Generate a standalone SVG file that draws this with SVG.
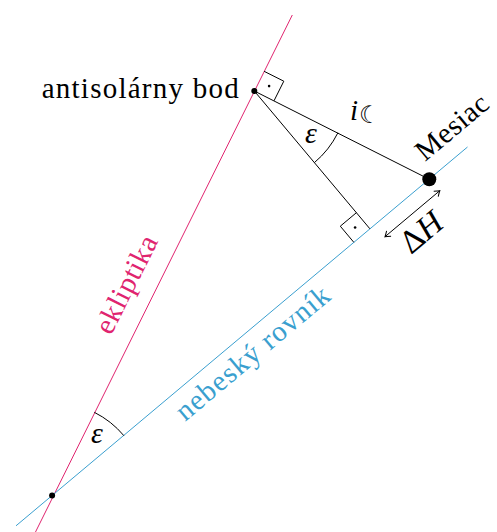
<svg xmlns="http://www.w3.org/2000/svg" width="497" height="532" viewBox="0 0 497 532">
<style>
.ecl{stroke:#e0246f;stroke-width:1;fill:none}
.equ{stroke:#3a9fcf;stroke-width:1;fill:none}
.blk{stroke:#000;stroke-width:1;fill:none}
.t{font-family:"Liberation Serif","DejaVu Serif",serif;font-size:29px;fill:#000}
.it{font-style:italic}
</style>
<defs>
<marker id="ah" viewBox="-6 -5 7 10" refX="0" refY="0" markerWidth="7" markerHeight="10" markerUnits="userSpaceOnUse" orient="auto-start-reverse">
<path d="M -5 -3.5 Q -1.5 -0.8 0 0 Q -1.5 0.8 -5 3.5" stroke="#000" stroke-width="1" fill="none"/>
</marker>
</defs>
<rect width="497" height="532" fill="#fff"/>
<g id="connectors">
<line id="ecliptic-line" class="ecl" x1="35.5" y1="532" x2="292.3" y2="15"/>
<line id="equator-line" class="equ" x1="16" y1="525.8" x2="467.5" y2="147"/>
<line class="blk" x1="254.3" y1="91" x2="429.3" y2="179.3"/>
<line class="blk" x1="254.3" y1="91" x2="369.9" y2="228.8"/>
<polyline class="blk" points="264.1,71.3 283.8,81.2 274,100.8"/>
<polyline class="blk" points="356.4,212.7 340.3,226.2 353.8,242.3"/>
<path class="blk" d="M 337.9,132.8 A 93.5 93.5 0 0 1 314.4,162.6"/>
<path class="blk" d="M 94.3,412.3 A 93 93 0 0 1 123.9,435.7"/>
<line class="blk" x1="385" y1="236.7" x2="439.8" y2="190.7" marker-start="url(#ah)" marker-end="url(#ah)"/>
<circle cx="269.1" cy="86.1" r="1.3" fill="#000"/>
<circle cx="355.1" cy="227.5" r="1.3" fill="#000"/>
</g>
<g id="intersection">
<circle cx="52.1" cy="495.5" r="3" fill="#000"/>
</g>
<g id="antisolar">
<circle cx="254.3" cy="91" r="3" fill="#000"/>
<text class="t" x="41.7" y="98" textLength="197" lengthAdjust="spacing">antisolárny bod</text>
</g>
<g id="moon">
<circle cx="429.3" cy="179.3" r="7" fill="#000"/>
<text class="t" transform="translate(425,162) rotate(-40)" textLength="86" lengthAdjust="spacing">Mesiac</text>
</g>
<g id="labels">
<text class="t" transform="translate(111,336) rotate(-63.43)" textLength="106" lengthAdjust="spacing" style="fill:#e0246f">ekliptika</text>
<text class="t" transform="translate(185,422) rotate(-40)" textLength="192" lengthAdjust="spacing" style="fill:#3a9fcf">nebeský rovník</text>
<text class="t it" x="305" y="143" style="font-size:30px">ε</text>
<text class="t it" x="91" y="443" style="font-size:30px">ε</text>
<text class="t it" x="350" y="120">i</text>
<text x="359" y="123" style="font-family:'DejaVu Sans',sans-serif;font-size:24px">☾</text>
<text class="t" transform="translate(411,255) rotate(-40)" style="font-size:33px">Δ<tspan class="it">H</tspan></text>
</g>
</svg>
